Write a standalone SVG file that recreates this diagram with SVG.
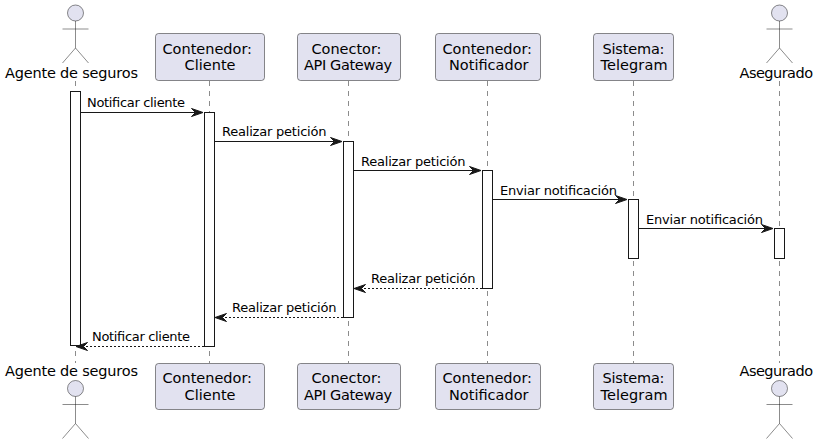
<svg xmlns="http://www.w3.org/2000/svg" width="820" height="444" viewBox="0 0 820 444">
<style>
text{font-family:"DejaVu Sans",sans-serif;fill:#000}
.p{font-size:14.5px}
.m{font-size:13px}
.box{fill:#E2E2F0;stroke:#181818;stroke-width:.5}
.life{stroke:#181818;stroke-width:.5;stroke-dasharray:5,5;fill:none}
.act{fill:#fff;stroke:#181818;stroke-width:1}
.msg{stroke:#181818;stroke-width:1;fill:none}
.dash{stroke-dasharray:2,2}
.actor{fill:none;stroke:#181818;stroke-width:.5}
.head{fill:#E2E2F0;stroke:#181818;stroke-width:.5}
.ah{fill:#181818;stroke:#181818;stroke-width:1}
</style>
<defs>
<g id="actor"><circle class="head" cx="0" cy="8" r="8"/><path class="actor" d="M0 16V43M-13 24H13M0 43L-13 58M0 43L13 58"/></g>
</defs>
<rect width="820" height="444" fill="#fff"/>
<g id="lifelines">
<path class="life" d="M75.5 81V363M209.5 81V363M348.5 81V363M487.5 81V363M633.5 81V363M779.5 81V363"/>
</g>
<g id="agente">
<use href="#actor" x="75.5" y="5"/><use href="#actor" x="75.5" y="380.5"/>
<text class="p" x="5" y="78" textLength="133">Agente de seguros</text><text class="p" x="5" y="376" textLength="133">Agente de seguros</text>
<rect class="act" x="70.5" y="91.5" width="10" height="254"/>
</g>
<g id="cliente">
<rect class="box" x="155.5" y="33.5" width="109" height="47" rx="3"/><rect class="box" x="155.5" y="363.5" width="109" height="46" rx="3"/>
<text class="p" x="162.5" y="54" textLength="89.5">Contenedor:</text><text class="p" x="184.5" y="70" textLength="51">Cliente</text>
<text class="p" x="162.5" y="383" textLength="89.5">Contenedor:</text><text class="p" x="184.5" y="400" textLength="51">Cliente</text>
<rect class="act" x="204.5" y="112.5" width="10" height="234"/>
</g>
<g id="gateway">
<rect class="box" x="297.5" y="33.5" width="103" height="47" rx="3"/><rect class="box" x="297.5" y="363.5" width="103" height="46" rx="3"/>
<text class="p" x="311.5" y="54" textLength="70">Conector:</text><text class="p" x="304" y="70" textLength="88">API Gateway</text>
<text class="p" x="311.5" y="383" textLength="70">Conector:</text><text class="p" x="304" y="400" textLength="88">API Gateway</text>
<rect class="act" x="343.5" y="141.5" width="10" height="176"/>
</g>
<g id="notificador">
<rect class="box" x="435.5" y="33.5" width="105" height="47" rx="3"/><rect class="box" x="435.5" y="363.5" width="105" height="46" rx="3"/>
<text class="p" x="442.5" y="54" textLength="89.5">Contenedor:</text><text class="p" x="449" y="70" textLength="79.5">Notificador</text>
<text class="p" x="442.5" y="383" textLength="89.5">Contenedor:</text><text class="p" x="449" y="400" textLength="79.5">Notificador</text>
<rect class="act" x="482.5" y="170.5" width="10" height="118"/>
</g>
<g id="telegram">
<rect class="box" x="593.5" y="33.5" width="80" height="47" rx="3"/><rect class="box" x="593.5" y="363.5" width="80" height="46" rx="3"/>
<text class="p" x="602.5" y="54" textLength="62">Sistema:</text><text class="p" x="600.5" y="70" textLength="67">Telegram</text>
<text class="p" x="602.5" y="383" textLength="62">Sistema:</text><text class="p" x="600.5" y="400" textLength="67">Telegram</text>
<rect class="act" x="628.5" y="199.5" width="10" height="59"/>
</g>
<g id="asegurado">
<use href="#actor" x="779.5" y="5"/><use href="#actor" x="779.5" y="380.5"/>
<text class="p" x="739.5" y="78" textLength="73.5">Asegurado</text><text class="p" x="739.5" y="376" textLength="73.5">Asegurado</text>
<rect class="act" x="774.5" y="228.5" width="10" height="30"/>
</g>
<g id="connectors">
<path class="msg" d="M80.5 112.5H195"/><path class="ah" d="M191.5 108.5L203 112.5L191.5 116.5L195.5 112.5Z"/>
<path class="msg" d="M214.5 141.5H334"/><path class="ah" d="M330.5 137.5L342 141.5L330.5 145.5L334.5 141.5Z"/>
<path class="msg" d="M353.5 170.5H473"/><path class="ah" d="M469.5 166.5L481 170.5L469.5 174.5L473.5 170.5Z"/>
<path class="msg" d="M492.5 199.5H619"/><path class="ah" d="M615.5 195.5L627 199.5L615.5 203.5L619.5 199.5Z"/>
<path class="msg" d="M638.5 228.5H765"/><path class="ah" d="M761.5 224.5L773 228.5L761.5 232.5L765.5 228.5Z"/>
<path class="msg dash" d="M482 288.5H362"/><path class="ah" d="M365.5 284.5L354 288.5L365.5 292.5L361.5 288.5Z"/>
<path class="msg dash" d="M343 317.5H223"/><path class="ah" d="M226.5 313.5L215 317.5L226.5 321.5L222.5 317.5Z"/>
<path class="msg dash" d="M204 346.5H84"/><path class="ah" d="M87.5 342.5L76 346.5L87.5 350.5L83.5 346.5Z"/>
<text class="m" x="87" y="107" textLength="98">Notificar cliente</text>
<text class="m" x="222" y="136" textLength="104.5">Realizar petición</text>
<text class="m" x="361" y="166" textLength="104.5">Realizar petición</text>
<text class="m" x="500" y="195" textLength="117">Enviar notificación</text>
<text class="m" x="646" y="224" textLength="117">Enviar notificación</text>
<text class="m" x="371" y="283" textLength="104.5">Realizar petición</text>
<text class="m" x="232" y="312" textLength="104.5">Realizar petición</text>
<text class="m" x="92" y="341" textLength="98">Notificar cliente</text>
</g>
</svg>
